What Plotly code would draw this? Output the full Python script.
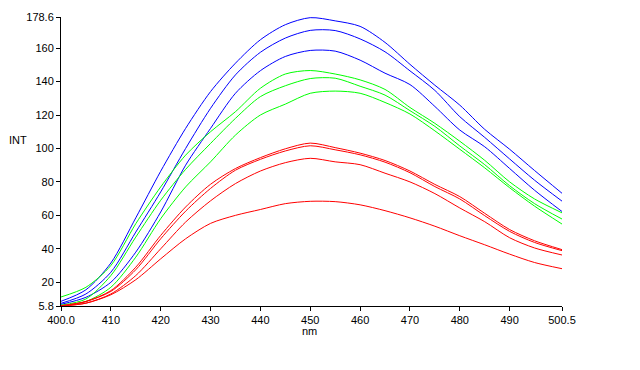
import plotly.graph_objects as go

wavelength = [400, 405, 410, 415, 420, 425, 430, 435, 440, 445, 450,
              455, 460, 465, 470, 475, 480, 485, 490, 495, 500.5]

blue_1 = [8.6, 15.5, 31.5, 58.5, 86.4, 112, 134, 151, 165, 174, 178.2,
          176.3, 173, 163.4, 150.3, 137.8, 125.9, 111.4, 99.5, 86.8, 73.2]
blue_2 = [7.4, 13, 26, 50, 74, 100, 124, 144, 157.5, 166, 170.6,
          170.5, 165.5, 157.8, 146.4, 134.7, 119, 106.6, 93.7, 81, 68.5]
blue_3 = [6.8, 11, 20, 38, 62, 90, 112, 133, 146.5, 155, 158.6,
          158.2, 152.8, 145, 138.2, 125.1, 111, 101, 88, 75, 62.3]

green_1 = [11.2, 17, 30, 55, 77, 96, 110, 122, 136, 144.5, 146.6,
           144.5, 141, 135.3, 124.5, 115, 104.3, 92.9, 80, 69.8, 61.5]
green_2 = [6.3, 10, 24, 47, 69, 87.5, 103, 118, 131, 137.5, 141.8,
           142, 137.2, 131.9, 122.6, 113.2, 101.5, 90.3, 77.7, 67, 57.8]
green_3 = [5.8, 8.5, 17, 35, 58, 77, 92, 108, 120, 126.5, 133,
           134.3, 133, 127.5, 120.6, 110.5, 99.5, 88.4, 76.5, 65.5, 54.8]

red_1 = [5.8, 8.5, 15, 29, 48, 65, 78.6, 88, 94.5, 99.8, 103.2,
         100.5, 97.2, 92.8, 86.5, 78.5, 71.2, 61.2, 51.5, 44.8, 39.5]
red_2 = [6.0, 8.5, 14.5, 27.5, 46, 62.5, 76.1, 87, 93.5, 98.5, 101.6,
         99.2, 96.2, 91.8, 85.5, 77.2, 69.8, 59.8, 50.4, 43.8, 38.9]
red_3 = [5.8, 7.5, 13, 24, 40, 56, 68.7, 79, 86.5, 91.5, 94.1,
         92, 90.3, 85.2, 80, 73, 64.4, 56.2, 46.6, 40.5, 36.3]
red_4 = [5.8, 7.5, 12.5, 21.5, 34, 46, 55.2, 60, 63.5, 67, 68.4,
         68.2, 66.3, 62.8, 58.5, 53.5, 47.8, 42.4, 36.8, 31.8, 28.1]

series = [
    (blue_1, "#0000FF"), (blue_2, "#0000FF"), (blue_3, "#0000FF"),
    (green_1, "#00FF00"), (green_2, "#00FF00"), (green_3, "#00FF00"),
    (red_1, "#FF0000"), (red_2, "#FF0000"), (red_3, "#FF0000"), (red_4, "#FF0000"),
]

x_tickvals = [400, 410, 420, 430, 440, 450, 460, 470, 480, 490, 500.5]
x_ticktext = ["400.0", "410", "420", "430", "440", "450", "460", "470", "480", "490", "500.5"]
y_tickvals = [5.8, 20, 40, 60, 80, 100, 120, 140, 160, 178.6]
y_ticktext = ["5.8", "20", "40", "60", "80", "100", "120", "140", "160", "178.6"]

fig = go.Figure()
for ys, col in series:
    fig.add_trace(go.Scatter(x=wavelength, y=ys, mode="lines",
                             line=dict(color=col, width=1, shape="spline", smoothing=0.8),
                             showlegend=False, hoverinfo="skip"))

axis_font = dict(family="Liberation Sans, Arial, sans-serif", size=11, color="black")

fig.update_layout(
    width=640, height=370,
    margin=dict(l=61, r=78, t=11, b=64),
    paper_bgcolor="white", plot_bgcolor="white",
    font=axis_font,
    hovermode=False,
    xaxis=dict(range=[400, 500.5], tickmode="array", tickvals=x_tickvals, ticktext=x_ticktext,
               showgrid=False, zeroline=False, showline=True, linecolor="black", linewidth=1,
               ticks="outside", ticklen=4, tickcolor="black", tickfont=axis_font),
    yaxis=dict(range=[5.8, 178.6], tickmode="array", tickvals=y_tickvals, ticktext=y_ticktext,
               showgrid=False, zeroline=False, showline=True, linecolor="black", linewidth=1,
               ticks="outside", ticklen=4, tickcolor="black", tickfont=axis_font),
    annotations=[
        dict(text="INT", xref="paper", yref="paper", x=-0.086, y=0.573,
             showarrow=False, font=axis_font, xanchor="center", yanchor="middle"),
        dict(text="nm", xref="paper", yref="paper", x=0.497, y=-0.088,
             showarrow=False, font=axis_font, xanchor="center", yanchor="middle"),
    ],
)

fig.write_html("out.html", config={"displayModeBar": False},
               post_script="document.body.style.margin='0';")
